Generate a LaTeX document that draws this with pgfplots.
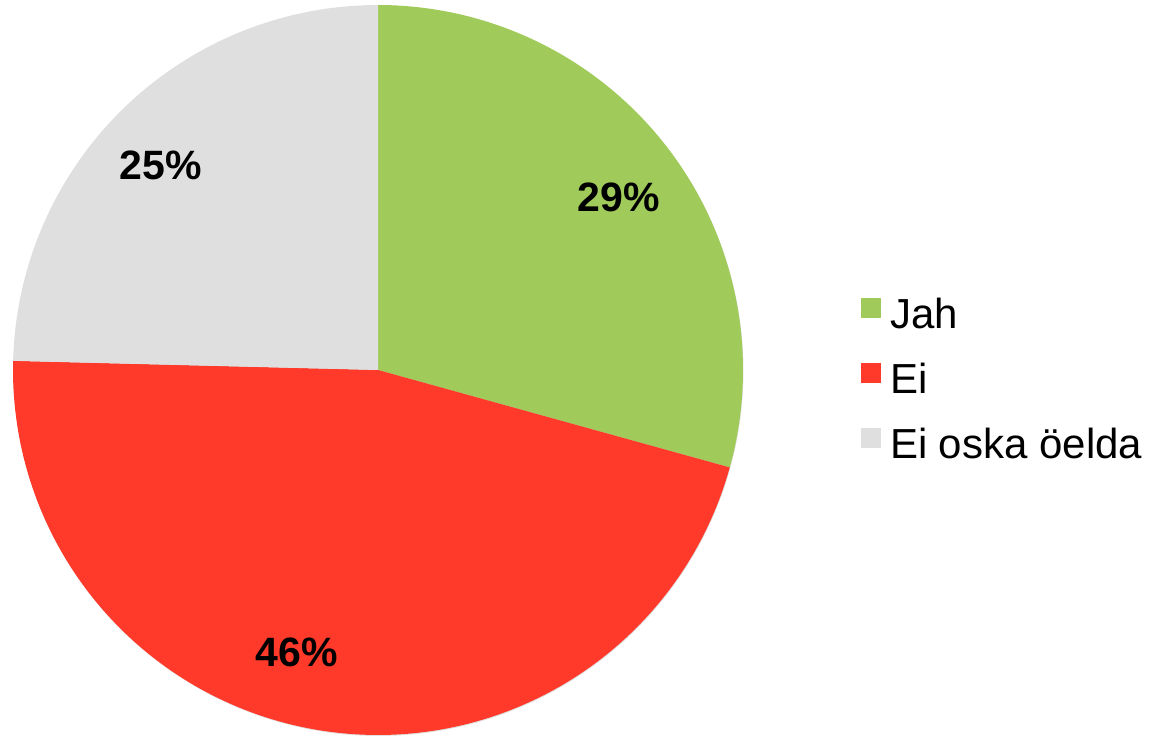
\documentclass[border=0pt]{standalone}
\usepackage{pgfplots}
\pgfplotsset{compat=1.18}
\usepackage{fontspec}
\setmainfont{Liberation Sans}
\definecolor{jahc}{HTML}{A0CB5A}
\definecolor{eic}{HTML}{FF3A2A}
\definecolor{eoc}{HTML}{DFDFDF}
% shares in percent
\def\vJah{29.3}
\def\vEi{46.1}
\def\vEo{24.6}
\pgfmathsetmacro{\aA}{90}
\pgfmathsetmacro{\aB}{90-3.6*\vJah}
\pgfmathsetmacro{\aC}{\aB-3.6*\vEi}
\pgfmathsetmacro{\aD}{\aC-3.6*\vEo}
\begin{document}
\begin{tikzpicture}
\begin{axis}[
  scale only axis, width=1150pt, height=736pt,
  xmin=0, xmax=1150, ymin=0, ymax=736,
  axis lines=none, ticks=none, clip=false,
  legend style={draw=none, fill=none, inner sep=0pt, outer sep=0pt,
    font=\fontsize{42}{50}\selectfont,
    at={(axis cs:861,438)}, anchor=north west,
    nodes={inner sep=0pt}, row sep=33pt, column sep=9pt},
  legend cell align=left,
  legend image code/.code={\fill[#1,draw=none] (0pt,-4pt) rectangle (20pt,16pt);},
]
\addplot[draw=none, forget plot] coordinates {(0,0) (1150,736)};
\addplot[fill=black!12, draw=none, forget plot, domain=0:360, samples=200]
  ({378.5+365*cos(x)}, {365+365*sin(x)}) -- cycle;
\addplot[fill=jahc, draw=none, domain=\aA:\aB, samples=100]
  ({378+365*cos(x)}, {366+365*sin(x)}) -- (axis cs:378,366) -- cycle;
\addlegendentry{Jah}
\addplot[fill=eic, draw=none, domain=\aB:\aC, samples=150]
  ({378+365*cos(x)}, {366+365*sin(x)}) -- (axis cs:378,366) -- cycle;
\addlegendentry{Ei}
\addplot[fill=eoc, draw=none, domain=\aC:\aD, samples=100]
  ({378+365*cos(x)}, {366+365*sin(x)}) -- (axis cs:378,366) -- cycle;
\addlegendentry{Ei oska öelda}
\node[font=\fontsize{41}{48}\selectfont\bfseries] at (axis cs:619,539) {29\%};
\node[font=\fontsize{41}{48}\selectfont\bfseries] at (axis cs:297,84) {46\%};
\node[font=\fontsize{41}{48}\selectfont\bfseries] at (axis cs:161,571) {25\%};
\end{axis}
\end{tikzpicture}
\end{document}
